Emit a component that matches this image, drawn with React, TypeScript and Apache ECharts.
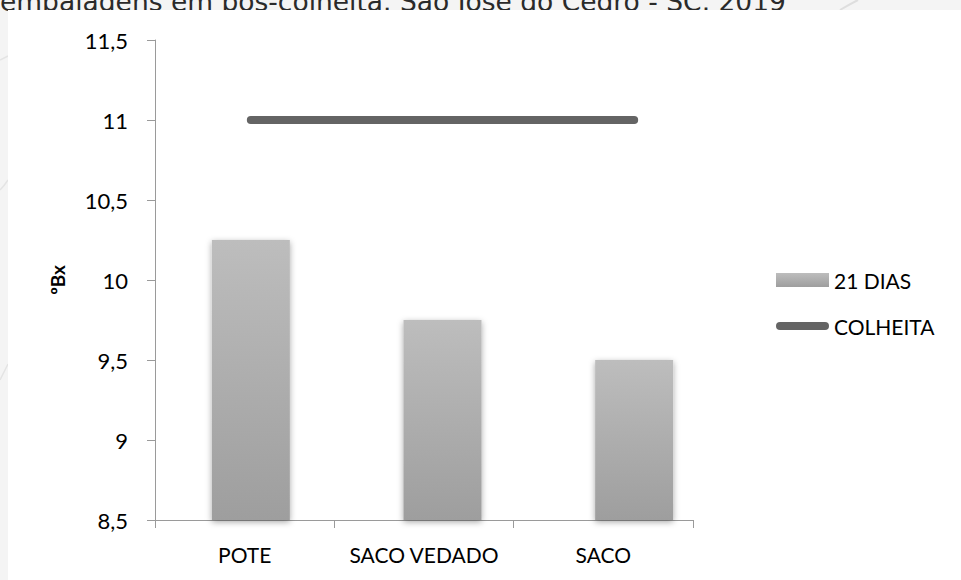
import React, { useEffect, useRef } from "react";
import * as echarts from "echarts";

// Brix (ºBx) of fruit after 21 days in each packaging, against the harvest value
const categories = ["POTE", "SACO VEDADO", "SACO"];
const dias21 = [10.25, 9.75, 9.5];
const colheita = [11, 11, 11];
const yTicks = { min: 8.5, max: 11.5, interval: 0.5 };
const titleText = "embalagens em pós-colheita. São José do Cedro - SC, 2019";

export default function App() {
  const ref = useRef<HTMLDivElement>(null);

  useEffect(() => {
    if (!ref.current) return;
    const chart = echarts.init(ref.current, undefined, { renderer: "svg" });
    const font = "Lato, 'Open Sans', sans-serif";
    const lineIcon =
      "path://M0,0 M53,14 M4,3 L49,3 A4,4 0 0 1 49,11 L4,11 A4,4 0 0 1 4,3 Z";

    chart.setOption({
      animation: false,
      backgroundColor: "#f4f4f4",
      textStyle: { fontFamily: font },
      graphic: [
        {
          type: "text",
          left: 0,
          top: -12,
          z: -20,
          style: {
            text: titleText,
            font: "26.5px 'DejaVu Sans', sans-serif",
            fill: "#2a2a2a",
          },
        },
        {
          type: "bezierCurve",
          z: -20,
          shape: { x1: 0, y1: 60, x2: 8, y2: 56, cpx1: 4, cpy1: 58 },
          style: { stroke: "#e4e4e4", lineWidth: 1.5, fill: "none" },
        },
        {
          type: "bezierCurve",
          z: -20,
          shape: { x1: 0, y1: 190, x2: 8, y2: 180, cpx1: 4, cpy1: 186 },
          style: { stroke: "#e4e4e4", lineWidth: 1.5, fill: "none" },
        },
        {
          type: "bezierCurve",
          z: -20,
          shape: { x1: 0, y1: 380, x2: 8, y2: 364, cpx1: 4, cpy1: 372 },
          style: { stroke: "#e4e4e4", lineWidth: 1.5, fill: "none" },
        },
        {
          type: "bezierCurve",
          z: -20,
          shape: { x1: 840, y1: 10, x2: 858, y2: 0, cpx1: 850, cpy1: 4 },
          style: { stroke: "#dedede", lineWidth: 2, fill: "none" },
        },
        {
          type: "rect",
          shape: { x: 8, y: 10, width: 960, height: 580 },
          z: -10,
          style: { fill: "#ffffff" },
          silent: true,
        },
      ],
      legend: {
        orient: "vertical",
        left: 771,
        top: 263,
        itemWidth: 53,
        itemHeight: 14,
        itemGap: 22,
        textStyle: { fontFamily: font, fontSize: 21, color: "#000", lineHeight: 24 },
        data: [
          { name: "21 DIAS", icon: "rect" },
          {
            name: "COLHEITA",
            icon: lineIcon,
            itemStyle: { color: "#646464", borderWidth: 0 },
          },
        ],
      },
      grid: [
        { left: 155, top: 40, width: 538, height: 480 },
        { left: 155, top: 40, width: 575, height: 480 },
      ],
      xAxis: [
        {
          type: "category",
          gridIndex: 0,
          data: categories,
          axisLine: { lineStyle: { color: "#9a9a9a", width: 1 } },
          axisTick: { show: true, interval: 0, length: 8, lineStyle: { color: "#9a9a9a" } },
          axisLabel: { interval: 0, fontFamily: font, fontSize: 21, color: "#000", margin: 24 },
        },
        {
          type: "category",
          gridIndex: 1,
          data: categories,
          show: false,
        },
      ],
      yAxis: [
        {
          type: "value",
          gridIndex: 0,
          min: yTicks.min,
          max: yTicks.max,
          interval: yTicks.interval,
          name: "ºBx",
          nameLocation: "middle",
          nameRotate: 90,
          nameGap: 88,
          nameTextStyle: { fontFamily: font, fontSize: 19, fontWeight: "bold", color: "#000" },
          axisLine: { show: true, lineStyle: { color: "#9a9a9a", width: 1 } },
          axisTick: { show: true, length: 8, lineStyle: { color: "#9a9a9a" } },
          splitLine: { show: false },
          axisLabel: {
            fontFamily: font,
            fontSize: 22,
            color: "#000",
            margin: 27,
            formatter: (v: number) => String(v).replace(".", ","),
          },
        },
        {
          type: "value",
          gridIndex: 1,
          min: yTicks.min,
          max: yTicks.max,
          show: false,
        },
      ],
      series: [
        {
          name: "21 DIAS",
          type: "bar",
          xAxisIndex: 1,
          yAxisIndex: 1,
          barWidth: 78,
          data: dias21,
          itemStyle: {
            color: new echarts.graphic.LinearGradient(0, 0, 0, 1, [
              { offset: 0, color: "#bdbdbd" },
              { offset: 1, color: "#9e9e9e" },
            ]),
            shadowBlur: 6,
            shadowColor: "rgba(0,0,0,0.35)",
            shadowOffsetY: 2,
          },
        },
        {
          name: "COLHEITA",
          type: "line",
          xAxisIndex: 1,
          yAxisIndex: 1,
          data: colheita,
          showSymbol: false,
          symbol: "none",
          lineStyle: { color: "#646464", width: 8, cap: "round" },
          itemStyle: { color: "#646464" },
          z: 3,
        },
      ],
    });

    return () => chart.dispose();
  }, []);

  return (
    <div
      ref={ref}
      style={{ position: "fixed", left: 0, top: 0, width: 961, height: 580 }}
    />
  );
}
